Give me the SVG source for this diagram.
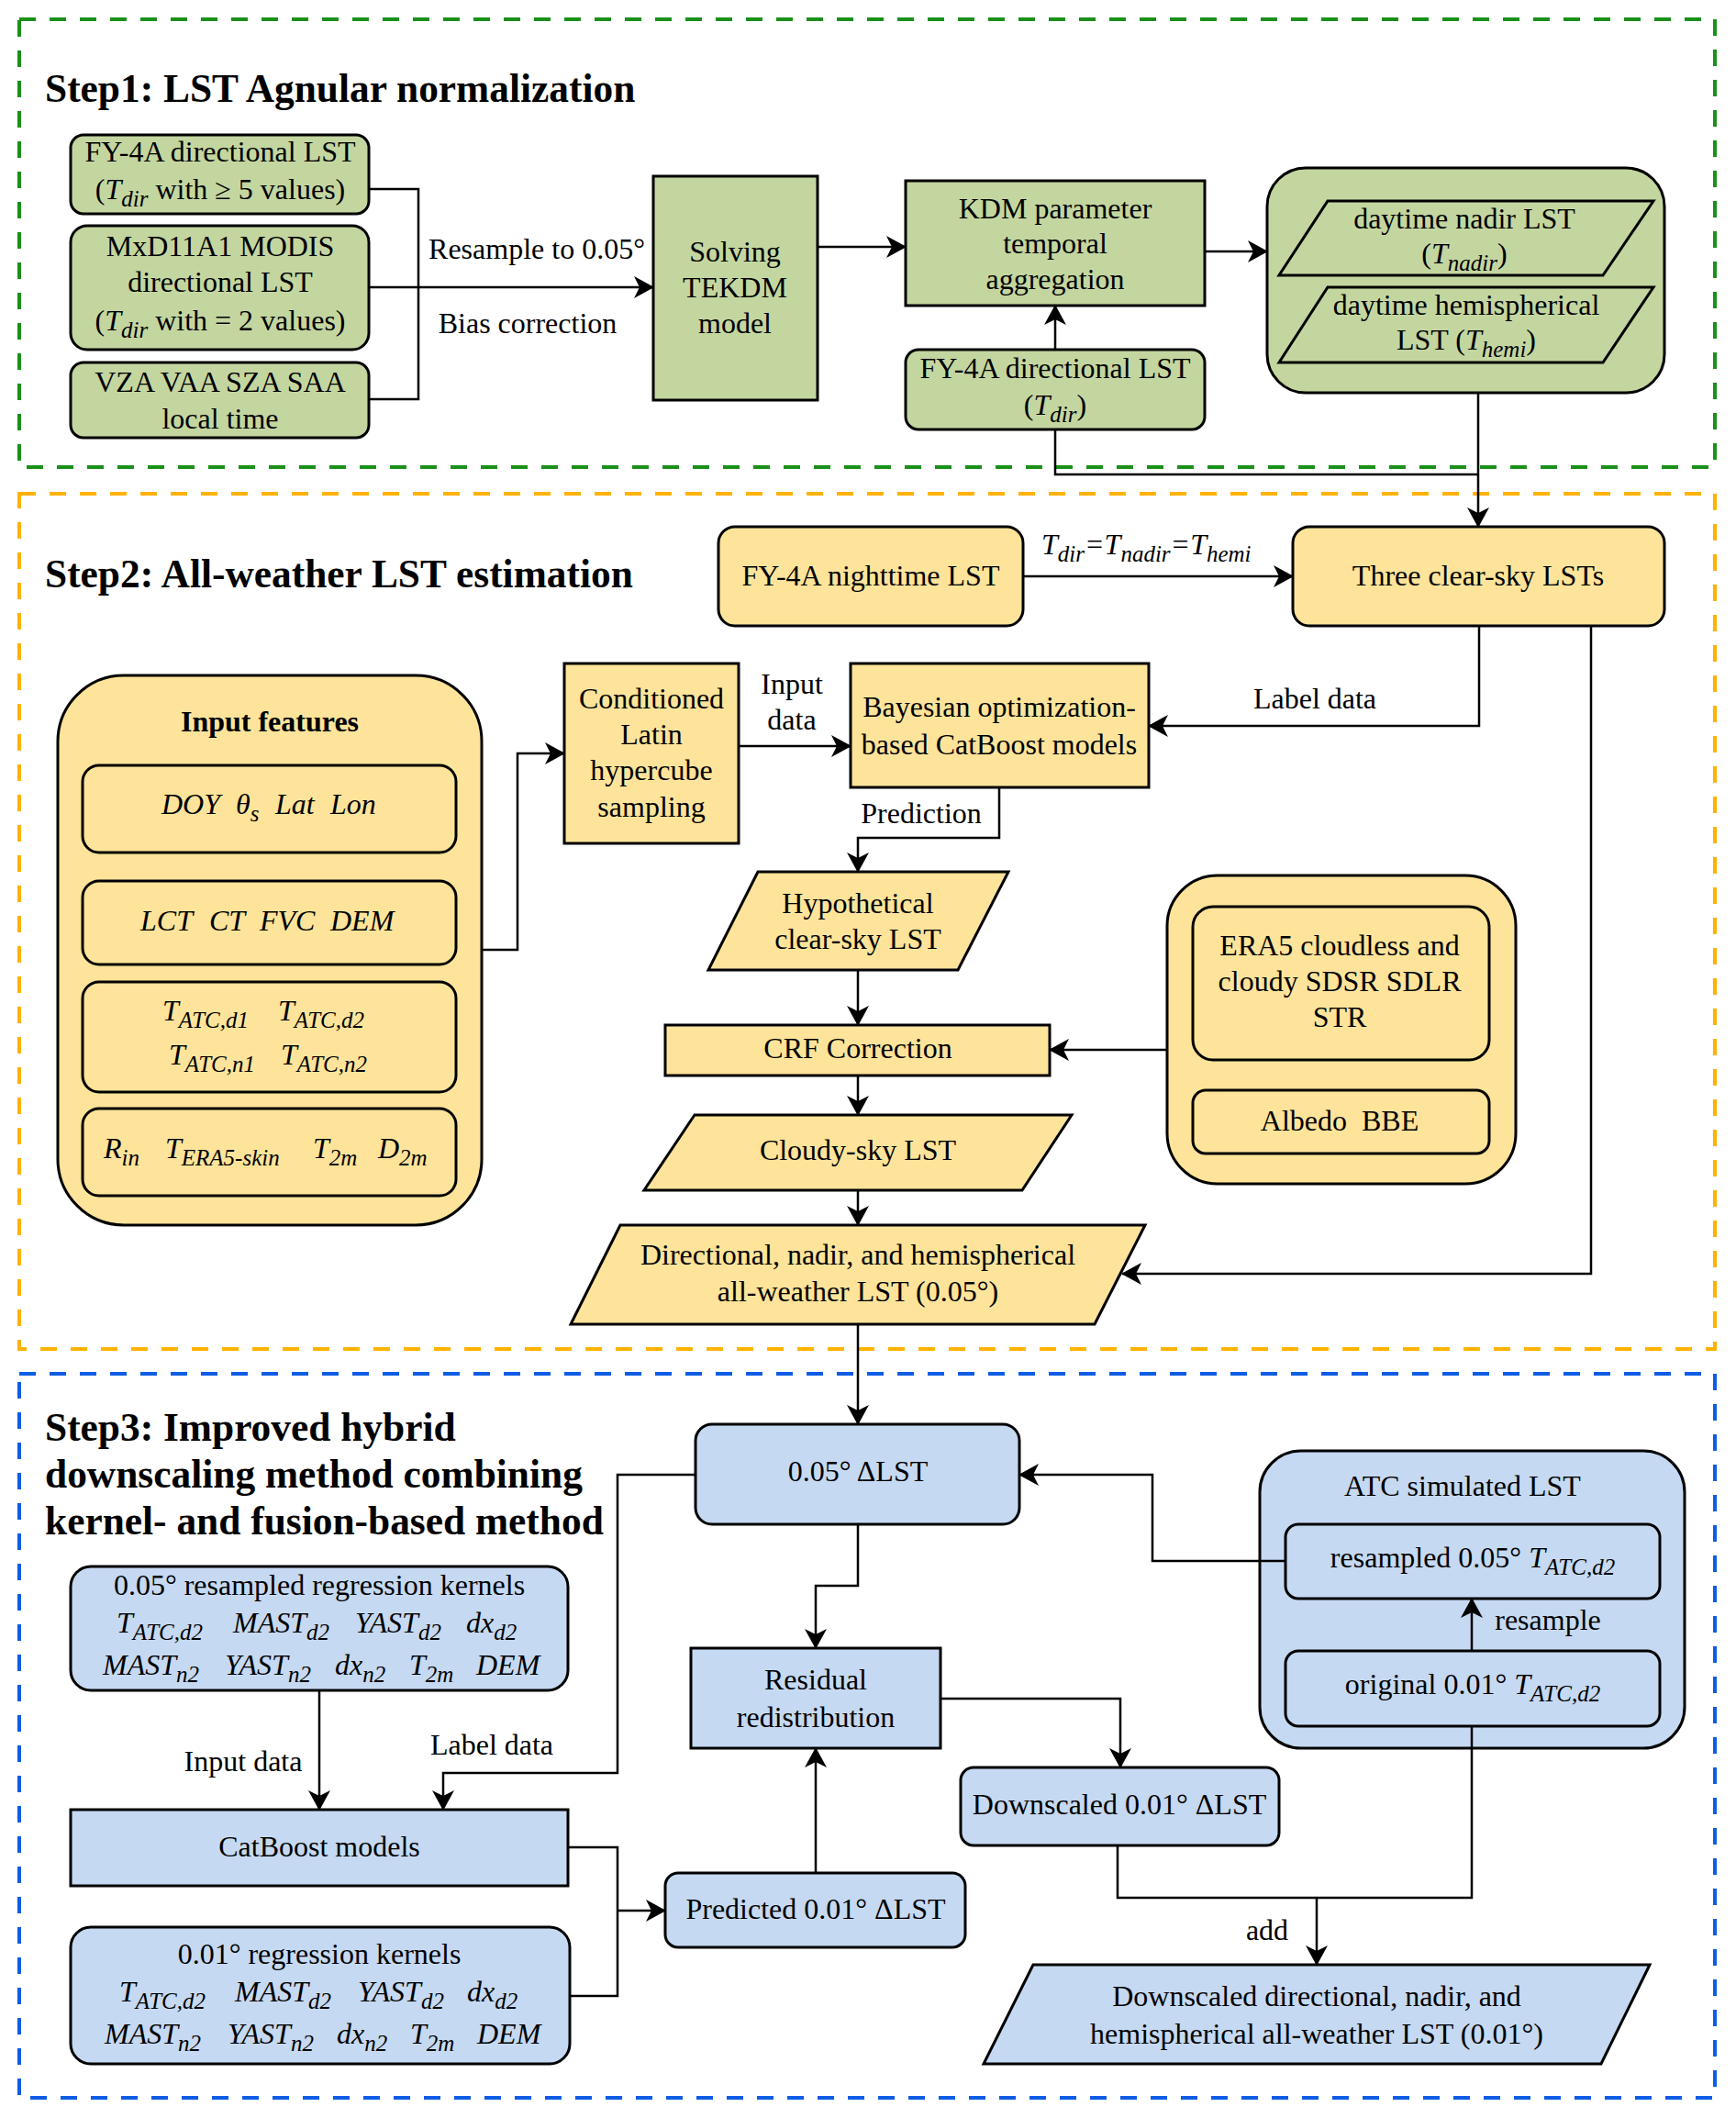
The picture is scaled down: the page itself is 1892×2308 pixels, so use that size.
<svg xmlns="http://www.w3.org/2000/svg" width="1892" height="2308" viewBox="0 0 1892 2308">
<defs>
<style>
text{font-family:"Liberation Serif","Times New Roman",serif;font-size:32px;fill:#000}
.c{text-anchor:middle}
.i{font-style:italic}
.sb{font-size:25px}
.h{font-weight:bold;font-size:43.4px}
.hb{font-weight:bold;font-size:32px}
.g{fill:#c4d6a0;stroke:#000;stroke-width:3}
.y{fill:#fee49a;stroke:#000;stroke-width:3}
.b{fill:#c6d9f2;stroke:#000;stroke-width:3}
.ln{fill:none;stroke:#000;stroke-width:2.5}
.a{marker-end:url(#ah)}
.dash{fill:none;stroke-width:4;stroke-dasharray:18 15}
</style>
<marker id="ah" viewBox="0 0 22 24" refX="21" refY="12" markerWidth="22" markerHeight="24" orient="auto" markerUnits="userSpaceOnUse"><path d="M0,0 L22,12 L0,24 L6,12 Z" fill="#000"/></marker>
</defs>
<rect width="1892" height="2308" fill="#fff"/>

<g id="frames">
<rect class="dash" x="21" y="21" width="1848" height="488" stroke="#1a901a"/>
<rect class="dash" x="21" y="538" width="1848" height="932" stroke="#ffb200"/>
<rect class="dash" x="21" y="1497" width="1848" height="789" stroke="#0f5ce6"/>
<text class="h" x="49" y="111">Step1: LST Agnular normalization</text>
<text class="h" x="49" y="640">Step2: All-weather LST estimation</text>
<text class="h" x="49" y="1570">Step3: Improved hybrid</text>
<text class="h" x="49" y="1621">downscaling method combining</text>
<text class="h" x="49" y="1672">kernel- and fusion-based method</text>
</g>

<!-- Step 1 nodes -->
<g id="n-fy4a-dir">
<rect class="g" x="77" y="147" width="325" height="86" rx="14"/>
<text class="c" x="240" y="176">FY-4A directional LST</text>
<text class="c" x="240" y="217">(<tspan class="i">T</tspan><tspan class="i sb" dy="8">dir</tspan><tspan dy="-8"> with ≥ 5 values)</tspan></text>
</g>
<g id="n-mxd">
<rect class="g" x="77" y="246" width="325" height="135" rx="18"/>
<text class="c" x="240" y="279">MxD11A1 MODIS</text>
<text class="c" x="240" y="318">directional LST</text>
<text class="c" x="240" y="360">(<tspan class="i">T</tspan><tspan class="i sb" dy="8">dir</tspan><tspan dy="-8"> with = 2 values)</tspan></text>
</g>
<g id="n-angles">
<rect class="g" x="77" y="395" width="325" height="82" rx="14"/>
<text class="c" x="240" y="427">VZA VAA SZA SAA</text>
<text class="c" x="240" y="467">local time</text>
</g>
<g id="n-tekdm">
<rect class="g" x="712" y="192" width="179" height="244"/>
<text class="c" x="801" y="285">Solving</text>
<text class="c" x="801" y="324">TEKDM</text>
<text class="c" x="801" y="363">model</text>
</g>
<g id="n-kdm">
<rect class="g" x="987" y="197" width="326" height="136"/>
<text class="c" x="1150" y="238">KDM parameter</text>
<text class="c" x="1150" y="276">temporal</text>
<text class="c" x="1150" y="315">aggregation</text>
</g>
<g id="n-fy4a-tdir">
<rect class="g" x="987" y="381" width="326" height="87" rx="14"/>
<text class="c" x="1150" y="412">FY-4A directional LST</text>
<text class="c" x="1150" y="452">(<tspan class="i">T</tspan><tspan class="i sb" dy="8">dir</tspan><tspan dy="-8">)</tspan></text>
</g>
<g id="n-daytime">
<rect class="g" x="1381" y="183" width="433" height="245" rx="42"/>
<polygon class="g" points="1447,219 1802,219 1747,300 1394,300"/>
<text class="c" x="1596" y="249">daytime nadir LST</text>
<text class="c" x="1596" y="287">(<tspan class="i">T</tspan><tspan class="i sb" dy="8">nadir</tspan><tspan dy="-8">)</tspan></text>
<polygon class="g" points="1447,313 1802,313 1747,395 1394,395"/>
<text class="c" x="1598" y="343">daytime hemispherical</text>
<text class="c" x="1598" y="381">LST (<tspan class="i">T</tspan><tspan class="i sb" dy="8">hemi</tspan><tspan dy="-8">)</tspan></text>
</g>

<!-- Step 2 nodes -->
<g id="n-night">
<rect class="y" x="783" y="574" width="332" height="108" rx="18"/>
<text class="c" x="949" y="638">FY-4A nighttime LST</text>
</g>
<g id="n-three">
<rect class="y" x="1409" y="574" width="405" height="108" rx="18"/>
<text class="c" x="1611" y="638">Three clear-sky LSTs</text>
</g>
<g id="n-input">
<rect class="y" x="63" y="736" width="462" height="599" rx="72"/>
<text class="hb c" x="294" y="797">Input features</text>
<rect class="y" x="90" y="834" width="407" height="95" rx="18"/>
<text class="i" y="887"><tspan x="176">DOY</tspan><tspan x="257">θ</tspan><tspan class="sb" dy="8">s</tspan><tspan x="300" dy="-8">Lat</tspan><tspan x="360">Lon</tspan></text>
<rect class="y" x="90" y="960" width="407" height="91" rx="18"/>
<text class="i" y="1014"><tspan x="153">LCT</tspan><tspan x="228">CT</tspan><tspan x="283">FVC</tspan><tspan x="360">DEM</tspan></text>
<rect class="y" x="90" y="1070" width="407" height="120" rx="18"/>
<text class="i" y="1112"><tspan x="177">T</tspan><tspan class="sb" dy="8">ATC,d1</tspan><tspan x="303" dy="-8">T</tspan><tspan class="sb" dy="8">ATC,d2</tspan></text>
<text class="i" y="1160"><tspan x="184">T</tspan><tspan class="sb" dy="8">ATC,n1</tspan><tspan x="306" dy="-8">T</tspan><tspan class="sb" dy="8">ATC,n2</tspan></text>
<rect class="y" x="90" y="1208" width="407" height="95" rx="18"/>
<text class="i" y="1262"><tspan x="113">R</tspan><tspan class="sb" dy="8">in</tspan><tspan x="180" dy="-8">T</tspan><tspan class="sb" dy="8">ERA5-skin</tspan><tspan x="341" dy="-8">T</tspan><tspan class="sb" dy="8">2m</tspan><tspan x="412" dy="-8">D</tspan><tspan class="sb" dy="8">2m</tspan></text>
</g>
<g id="n-clhs">
<rect class="y" x="615" y="723" width="190" height="196"/>
<text class="c" x="710" y="772">Conditioned</text>
<text class="c" x="710" y="811">Latin</text>
<text class="c" x="710" y="850">hypercube</text>
<text class="c" x="710" y="890">sampling</text>
</g>
<g id="n-bayes">
<rect class="y" x="927" y="723" width="325" height="135"/>
<text class="c" x="1089" y="781">Bayesian optimization-</text>
<text class="c" x="1089" y="822">based CatBoost models</text>
</g>
<g id="n-hypo">
<polygon class="y" points="826,950 1099,950 1044,1057 772,1057"/>
<text class="c" x="935" y="995">Hypothetical</text>
<text class="c" x="935" y="1034">clear-sky LST</text>
</g>
<g id="n-crf">
<rect class="y" x="725" y="1117" width="419" height="55"/>
<text class="c" x="935" y="1153">CRF Correction</text>
</g>
<g id="n-era5">
<rect class="y" x="1272" y="954" width="380" height="336" rx="55"/>
<rect class="y" x="1300" y="988" width="323" height="167" rx="22"/>
<text class="c" x="1460" y="1041">ERA5 cloudless and</text>
<text class="c" x="1460" y="1080">cloudy SDSR SDLR</text>
<text class="c" x="1460" y="1119">STR</text>
<rect class="y" x="1300" y="1188" width="323" height="69" rx="14"/>
<text class="c" x="1460" y="1232">Albedo&#160; BBE</text>
</g>
<g id="n-cloudy">
<polygon class="y" points="757,1215 1168,1215 1114,1297 702,1297"/>
<text class="c" x="935" y="1264">Cloudy-sky LST</text>
</g>
<g id="n-allw">
<polygon class="y" points="676,1335 1248,1335 1193,1443 622,1443"/>
<text class="c" x="935" y="1378">Directional, nadir, and hemispherical</text>
<text class="c" x="935" y="1418">all-weather LST (0.05°)</text>
</g>

<!-- Step 3 nodes -->
<g id="n-d005">
<rect class="b" x="758" y="1552" width="353" height="109" rx="18"/>
<text class="c" x="935" y="1614">0.05° ΔLST</text>
</g>
<g id="n-k005">
<rect class="b" x="77" y="1707" width="542" height="135" rx="22"/>
<text class="c" x="348" y="1738">0.05° resampled regression kernels</text>
<text class="i" y="1779"><tspan x="127">T</tspan><tspan class="sb" dy="8">ATC,d2</tspan><tspan x="254" dy="-8">MAST</tspan><tspan class="sb" dy="8">d2</tspan><tspan x="387" dy="-8">YAST</tspan><tspan class="sb" dy="8">d2</tspan><tspan x="508" dy="-8">dx</tspan><tspan class="sb" dy="8">d2</tspan></text>
<text class="i" y="1825"><tspan x="112">MAST</tspan><tspan class="sb" dy="8">n2</tspan><tspan x="245" dy="-8">YAST</tspan><tspan class="sb" dy="8">n2</tspan><tspan x="365" dy="-8">dx</tspan><tspan class="sb" dy="8">n2</tspan><tspan x="446" dy="-8">T</tspan><tspan class="sb" dy="8">2m</tspan><tspan x="519" dy="-8">DEM</tspan></text>
</g>
<g id="n-catboost">
<rect class="b" x="77" y="1972" width="542" height="83"/>
<text class="c" x="348" y="2023">CatBoost models</text>
</g>
<g id="n-k001">
<rect class="b" x="77" y="2100" width="544" height="149" rx="22"/>
<text class="c" x="348" y="2140">0.01° regression kernels</text>
<text class="i" y="2181"><tspan x="130">T</tspan><tspan class="sb" dy="8">ATC,d2</tspan><tspan x="256" dy="-8">MAST</tspan><tspan class="sb" dy="8">d2</tspan><tspan x="390" dy="-8">YAST</tspan><tspan class="sb" dy="8">d2</tspan><tspan x="509" dy="-8">dx</tspan><tspan class="sb" dy="8">d2</tspan></text>
<text class="i" y="2227"><tspan x="114">MAST</tspan><tspan class="sb" dy="8">n2</tspan><tspan x="248" dy="-8">YAST</tspan><tspan class="sb" dy="8">n2</tspan><tspan x="367" dy="-8">dx</tspan><tspan class="sb" dy="8">n2</tspan><tspan x="447" dy="-8">T</tspan><tspan class="sb" dy="8">2m</tspan><tspan x="520" dy="-8">DEM</tspan></text>
</g>
<g id="n-resid">
<rect class="b" x="753" y="1796" width="272" height="109"/>
<text class="c" x="889" y="1841">Residual</text>
<text class="c" x="889" y="1882">redistribution</text>
</g>
<g id="n-pred">
<rect class="b" x="725" y="2041" width="327" height="81" rx="14"/>
<text class="c" x="889" y="2091">Predicted 0.01° ΔLST</text>
</g>
<g id="n-down001">
<rect class="b" x="1047" y="1926" width="347" height="85" rx="14"/>
<text class="c" x="1220" y="1977">Downscaled 0.01° ΔLST</text>
</g>
<g id="n-atc">
<rect class="b" x="1373" y="1581" width="463" height="324" rx="45"/>
<text class="c" x="1594" y="1630">ATC simulated LST</text>
<rect class="b" x="1401" y="1661" width="408" height="81" rx="14"/>
<text class="c" x="1605" y="1708">resampled 0.05° <tspan class="i">T</tspan><tspan class="i sb" dy="8">ATC,d2</tspan></text>
<rect class="b" x="1401" y="1799" width="408" height="82" rx="14"/>
<text class="c" x="1605" y="1846">original 0.01° <tspan class="i">T</tspan><tspan class="i sb" dy="8">ATC,d2</tspan></text>
</g>
<g id="n-final">
<polygon class="b" points="1126,2141 1798,2141 1745,2249 1072,2249"/>
<text class="c" x="1435" y="2186">Downscaled directional, nadir, and</text>
<text class="c" x="1435" y="2227">hemispherical all-weather LST (0.01°)</text>
</g>

<g id="connectors">
<polyline class="ln" points="402,206 456,206 456,435 402,435"/>
<line class="ln a" x1="402" y1="313" x2="712" y2="313"/>
<line class="ln a" x1="891" y1="269" x2="987" y2="269"/>
<line class="ln a" x1="1150" y1="381" x2="1150" y2="333"/>
<line class="ln a" x1="1313" y1="274" x2="1381" y2="274"/>
<polyline class="ln" points="1150,468 1150,517 1611,517"/>
<line class="ln a" x1="1611" y1="428" x2="1611" y2="574"/>

<line class="ln a" x1="1115" y1="628" x2="1409" y2="628"/>
<polyline class="ln a" points="525,1035 564,1035 564,821 615,821"/>
<line class="ln a" x1="805" y1="813" x2="927" y2="813"/>
<polyline class="ln a" points="1612,682 1612,791 1252,791"/>
<polyline class="ln a" points="1089,858 1089,913 935,913 935,950"/>
<polyline class="ln a" points="1734,682 1734,1388 1223,1388"/>
<line class="ln a" x1="935" y1="1057" x2="935" y2="1117"/>
<line class="ln a" x1="1272" y1="1144" x2="1144" y2="1144"/>
<line class="ln a" x1="935" y1="1172" x2="935" y2="1215"/>
<line class="ln a" x1="935" y1="1297" x2="935" y2="1335"/>

<line class="ln a" x1="935" y1="1443" x2="935" y2="1552"/>
<polyline class="ln a" points="758,1607 673,1607 673,1932 483,1932 483,1972"/>
<line class="ln a" x1="348" y1="1842" x2="348" y2="1972"/>
<polyline class="ln" points="619,2013 673,2013 673,2175 621,2175"/>
<line class="ln a" x1="673" y1="2082" x2="725" y2="2082"/>
<line class="ln a" x1="889" y1="2041" x2="889" y2="1905"/>
<polyline class="ln a" points="935,1661 935,1728 889,1728 889,1796"/>
<polyline class="ln a" points="1025,1851 1221,1851 1221,1926"/>
<polyline class="ln a" points="1401,1701 1256,1701 1256,1607 1111,1607"/>
<line class="ln a" x1="1604" y1="1799" x2="1604" y2="1742"/>
<polyline class="ln" points="1218,2011 1218,2068 1604,2068 1604,1881"/>
<line class="ln a" x1="1435" y1="2068" x2="1435" y2="2141"/>

<text class="c" x="585" y="282">Resample to 0.05°</text>
<text class="c" x="575" y="363">Bias correction</text>
<text class="i" x="1135" y="604">T<tspan class="sb" dy="8">dir</tspan><tspan dy="-8">=T</tspan><tspan class="sb" dy="8">nadir</tspan><tspan dy="-8">=T</tspan><tspan class="sb" dy="8">hemi</tspan></text>
<text class="c" x="863" y="756">Input</text>
<text class="c" x="863" y="795">data</text>
<text class="c" x="1433" y="772">Label data</text>
<text class="c" x="1004" y="897">Prediction</text>
<text class="c" x="265" y="1930">Input data</text>
<text class="c" x="536" y="1912">Label data</text>
<text class="c" x="1687" y="1776">resample</text>
<text class="c" x="1381" y="2114">add</text>
</g>
</svg>
